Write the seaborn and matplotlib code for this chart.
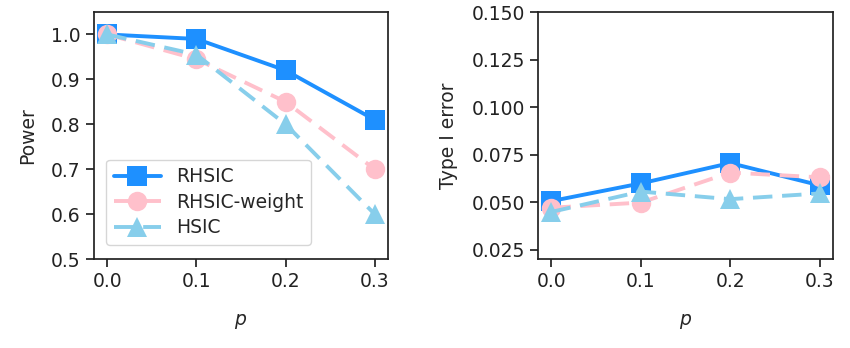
import numpy as np
import pandas as pd
import seaborn as sns
import matplotlib
matplotlib.use("Agg")
import matplotlib.pyplot as plt

p_values = [0.0, 0.1, 0.2, 0.3]
methods = ["RHSIC", "RHSIC-weight", "HSIC"]
power_rhsic = [1.0, 0.99, 0.92, 0.81]
power_weight = [1.0, 0.945, 0.85, 0.70]
power_hsic = [1.0, 0.955, 0.80, 0.60]
err_rhsic = [0.0505, 0.0598, 0.0705, 0.0588]
err_weight = [0.047, 0.0497, 0.0655, 0.063]
err_hsic = [0.0448, 0.0555, 0.0515, 0.0545]

sns.set_theme(style="ticks")
plt.rcParams['font.family'] = ['DejaVu Sans']

colors = {"RHSIC": "#1E90FF", "RHSIC-weight": "#FFC0CB", "HSIC": "#87CEEB"}
markers = {"RHSIC": "s", "RHSIC-weight": "o", "HSIC": "^"}
styles = {"RHSIC": "-", "RHSIC-weight": (0, (5, 2.5)), "HSIC": (0, (5, 2.5))}

fig = plt.figure(figsize=(8.5, 3.48), dpi=100)
ax1 = fig.add_axes([0.1106, 0.2557, 0.3459, 0.7098])
ax2 = fig.add_axes([0.633, 0.2557, 0.347, 0.7098])

def draw(ax, series):
    for name, vals in zip(methods, series):
        df = pd.DataFrame({"p": p_values, "v": vals})
        sns.lineplot(data=df, x="p", y="v", ax=ax, color=colors[name],
                     marker=markers[name], markersize=14, linewidth=2.8,
                     linestyle=styles[name], markeredgewidth=0, label=name)
    ax.set_xticks(p_values)
    ax.set_xlabel("$p$", fontsize=13.5, labelpad=15)
    for s in ax.spines.values():
        s.set_color("#222222")
    ax.tick_params(labelsize=13.5, color="#222222", labelcolor="#222222")

draw(ax1, [power_rhsic, power_weight, power_hsic])
ax1.set_ylim(0.5, 1.05)
ax1.set_yticks([0.5, 0.6, 0.7, 0.8, 0.9, 1.0])
ax1.set_ylabel("Power", fontsize=13.5, labelpad=10)
ax1.legend(loc="lower left", fontsize=13.5, handlelength=2.5, frameon=True,
           bbox_to_anchor=(0.01, 0.02), borderpad=0.4, labelspacing=0.35)

draw(ax2, [err_rhsic, err_weight, err_hsic])
ax2.set_ylim(0.02, 0.15)
ax2.set_yticks([0.025, 0.05, 0.075, 0.1, 0.125, 0.15])
ax2.set_yticklabels(["0.025", "0.050", "0.075", "0.100", "0.125", "0.150"])
ax2.set_ylabel("Type I error", fontsize=13.5, labelpad=10)
ax2.get_legend().remove()

fig.savefig("out.png", dpi=100)
